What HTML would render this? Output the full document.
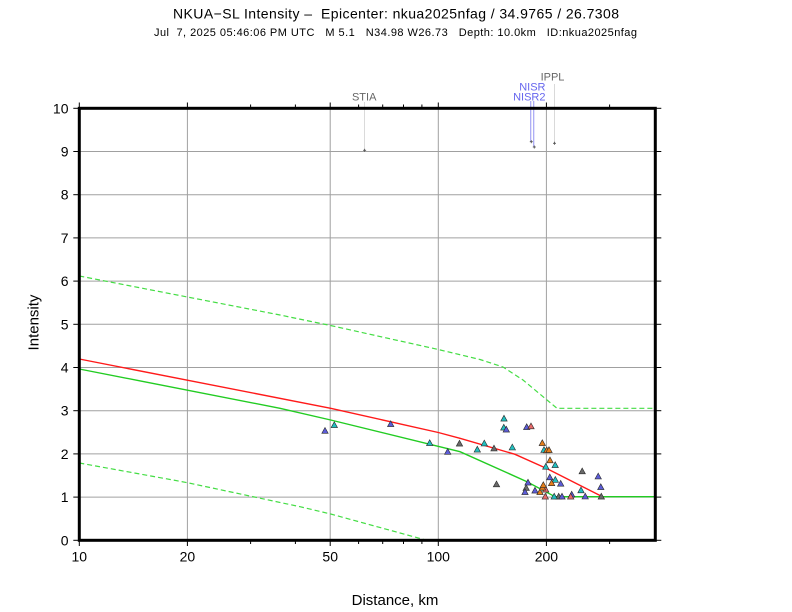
<!DOCTYPE html>
<html>
<head>
<meta charset="utf-8">
<style>
  html, body { margin:0; padding:0; background:#fff; }
  svg { display:block; }
  text { font-family: "Liberation Sans", "DejaVu Sans", sans-serif; }
</style>
</head>
<body>
<svg width="792" height="612" viewBox="0 0 792 612" xmlns="http://www.w3.org/2000/svg">
  <rect x="0" y="0" width="792" height="612" fill="#fff"/>

  <!-- Titles -->
  <text x="396" y="18.3" font-size="14" text-anchor="middle" fill="#000" textLength="446" lengthAdjust="spacing" xml:space="preserve">NKUA−SL Intensity –  Epicenter: nkua2025nfag / 34.9765 / 26.7308</text>
  <text x="395.5" y="36" font-size="11" text-anchor="middle" fill="#000" textLength="483" lengthAdjust="spacing" xml:space="preserve">Jul  7, 2025 05:46:06 PM UTC   M 5.1   N34.98 W26.73   Depth: 10.0km   ID:nkua2025nfag</text>

  <!-- Grid -->
  <g stroke="#a0a0a0" stroke-width="1" fill="none">
    <line x1="187.4" y1="108.3" x2="187.4" y2="540.3"/>
    <line x1="330.2" y1="108.3" x2="330.2" y2="540.3"/>
    <line x1="438.3" y1="108.3" x2="438.3" y2="540.3"/>
    <line x1="546.4" y1="108.3" x2="546.4" y2="540.3"/>
    <line x1="79.3" y1="497.1" x2="655.3" y2="497.1"/>
    <line x1="79.3" y1="453.9" x2="655.3" y2="453.9"/>
    <line x1="79.3" y1="410.7" x2="655.3" y2="410.7"/>
    <line x1="79.3" y1="367.5" x2="655.3" y2="367.5"/>
    <line x1="79.3" y1="324.3" x2="655.3" y2="324.3"/>
    <line x1="79.3" y1="281.1" x2="655.3" y2="281.1"/>
    <line x1="79.3" y1="237.9" x2="655.3" y2="237.9"/>
    <line x1="79.3" y1="194.7" x2="655.3" y2="194.7"/>
    <line x1="79.3" y1="151.5" x2="655.3" y2="151.5"/>
  </g>

  <!-- Ticks -->
  <g stroke="#000" stroke-width="1" fill="none">
    <!-- left / right -->
    <line x1="73.3" y1="540.3" x2="79.3" y2="540.3"/><line x1="655.3" y1="540.3" x2="661.3" y2="540.3"/>
    <line x1="73.3" y1="497.1" x2="79.3" y2="497.1"/><line x1="655.3" y1="497.1" x2="661.3" y2="497.1"/>
    <line x1="73.3" y1="453.9" x2="79.3" y2="453.9"/><line x1="655.3" y1="453.9" x2="661.3" y2="453.9"/>
    <line x1="73.3" y1="410.7" x2="79.3" y2="410.7"/><line x1="655.3" y1="410.7" x2="661.3" y2="410.7"/>
    <line x1="73.3" y1="367.5" x2="79.3" y2="367.5"/><line x1="655.3" y1="367.5" x2="661.3" y2="367.5"/>
    <line x1="73.3" y1="324.3" x2="79.3" y2="324.3"/><line x1="655.3" y1="324.3" x2="661.3" y2="324.3"/>
    <line x1="73.3" y1="281.1" x2="79.3" y2="281.1"/><line x1="655.3" y1="281.1" x2="661.3" y2="281.1"/>
    <line x1="73.3" y1="237.9" x2="79.3" y2="237.9"/><line x1="655.3" y1="237.9" x2="661.3" y2="237.9"/>
    <line x1="73.3" y1="194.7" x2="79.3" y2="194.7"/><line x1="655.3" y1="194.7" x2="661.3" y2="194.7"/>
    <line x1="73.3" y1="151.5" x2="79.3" y2="151.5"/><line x1="655.3" y1="151.5" x2="661.3" y2="151.5"/>
    <line x1="73.3" y1="108.3" x2="79.3" y2="108.3"/><line x1="655.3" y1="108.3" x2="661.3" y2="108.3"/>
    <!-- top / bottom major -->
    <line x1="79.3" y1="102.5" x2="79.3" y2="108.3"/><line x1="79.3" y1="540.3" x2="79.3" y2="546"/>
    <line x1="187.4" y1="102.5" x2="187.4" y2="108.3"/><line x1="187.4" y1="540.3" x2="187.4" y2="546"/>
    <line x1="330.2" y1="102.5" x2="330.2" y2="108.3"/><line x1="330.2" y1="540.3" x2="330.2" y2="546"/>
    <line x1="438.3" y1="102.5" x2="438.3" y2="108.3"/><line x1="438.3" y1="540.3" x2="438.3" y2="546"/>
    <line x1="546.4" y1="102.5" x2="546.4" y2="108.3"/><line x1="546.4" y1="540.3" x2="546.4" y2="546"/>
    <!-- minor -->
    <line x1="250.6" y1="104.5" x2="250.6" y2="108.3"/><line x1="250.6" y1="540.3" x2="250.6" y2="544"/>
    <line x1="295.4" y1="104.5" x2="295.4" y2="108.3"/><line x1="295.4" y1="540.3" x2="295.4" y2="544"/>
    <line x1="358.6" y1="104.5" x2="358.6" y2="108.3"/><line x1="358.6" y1="540.3" x2="358.6" y2="544"/>
    <line x1="382.7" y1="104.5" x2="382.7" y2="108.3"/><line x1="382.7" y1="540.3" x2="382.7" y2="544"/>
    <line x1="403.5" y1="104.5" x2="403.5" y2="108.3"/><line x1="403.5" y1="540.3" x2="403.5" y2="544"/>
    <line x1="421.9" y1="104.5" x2="421.9" y2="108.3"/><line x1="421.9" y1="540.3" x2="421.9" y2="544"/>
    <line x1="609.6" y1="104.5" x2="609.6" y2="108.3"/><line x1="609.6" y1="540.3" x2="609.6" y2="544"/>
  </g>

  <!-- Tick labels -->
  <g font-size="14" fill="#000">
    <g text-anchor="end">
      <text x="68.5" y="545.3">0</text>
      <text x="68.5" y="502.1">1</text>
      <text x="68.5" y="458.9">2</text>
      <text x="68.5" y="415.7">3</text>
      <text x="68.5" y="372.5">4</text>
      <text x="68.5" y="329.3">5</text>
      <text x="68.5" y="286.1">6</text>
      <text x="68.5" y="242.9">7</text>
      <text x="68.5" y="199.7">8</text>
      <text x="68.5" y="156.5">9</text>
      <text x="68.5" y="113.3">10</text>
    </g>
    <g text-anchor="middle">
      <text x="79.3" y="561.7">10</text>
      <text x="187.4" y="561.7">20</text>
      <text x="330.2" y="561.7">50</text>
      <text x="438.3" y="561.7">100</text>
      <text x="546.4" y="561.7">200</text>
    </g>
  </g>

  <!-- Axis titles -->
  <text x="395" y="605" font-size="15" text-anchor="middle" fill="#000">Distance, km</text>
  <text transform="translate(38.5,322.5) rotate(-90)" font-size="15" text-anchor="middle" fill="#000">Intensity</text>

  <!-- Curves -->
  <polyline fill="none" stroke="#44dd44" stroke-width="1.2" stroke-dasharray="5,3"
    points="79.3,276 187.4,297 280,315 330.5,325.5 438.3,349.5 480,359.5 503,367 523,380 547,400 557,408.3 655.3,408.3"/>
  <polyline fill="none" stroke="#44dd44" stroke-width="1.2" stroke-dasharray="5,3"
    points="79.3,463 173,480 187.4,482.7 300,506.7 330.7,514 426.7,540.3"/>
  <polyline fill="none" stroke="#22cc22" stroke-width="1.4"
    points="79.3,369 280,408.3 330.7,420 460,451.7 527,481.7 555,496.7 655.3,496.7"/>
  <polyline fill="none" stroke="#ff1a1a" stroke-width="1.4"
    points="79.3,359 330.7,408.3 438.3,432.5 460,438.3 515,454.3 546.7,468.5 601,496"/>

  <!-- Station annotation lines -->
  <g fill="none" stroke-width="0.8">
    <line x1="364.6" y1="102" x2="364.6" y2="150" stroke="#d0d0d0"/>
    <line x1="554.5" y1="84" x2="554.5" y2="143" stroke="#d0d0d0"/>
    <line x1="530.8" y1="101" x2="530.8" y2="141.5" stroke="#7777ee"/>
    <line x1="533.8" y1="101" x2="533.8" y2="147" stroke="#7777ee"/>
  </g>
  <g fill="#666" font-size="11">
    <text x="364.2" y="100.7" text-anchor="middle">STIA</text>
    <text x="552.5" y="80.7" text-anchor="middle">IPPL</text>
    <text x="545.5" y="90.7" text-anchor="end" fill="#6666ee">NISR</text>
    <text x="545.5" y="100.7" text-anchor="end" fill="#6666ee">NISR2</text>
  </g>
  <g stroke="#555" stroke-width="0.9">
    <line x1="363.1" y1="150.3" x2="366.1" y2="150.3"/><line x1="364.6" y1="148.8" x2="364.6" y2="151.8"/>
    <line x1="529.8" y1="141.7" x2="532.8" y2="141.7"/><line x1="531.3" y1="140.2" x2="531.3" y2="143.2"/>
    <line x1="532.8" y1="147" x2="535.8" y2="147"/><line x1="534.3" y1="145.5" x2="534.3" y2="148.5"/>
    <line x1="553" y1="143.3" x2="556" y2="143.3"/><line x1="554.5" y1="141.8" x2="554.5" y2="144.8"/>
  </g>

  <!-- Triangles -->
  <defs>
    <path id="t" d="M0,-3.2 L3.2,2.6 L-3.2,2.6 Z"/>
  </defs>
  <g stroke="#2a2a2a" stroke-width="0.6">
    <!-- gray -->
    <g fill="#6a6a6a">
      <use href="#t" x="459.5" y="443.5"/>
      <use href="#t" x="494" y="448.3"/>
      <use href="#t" x="496.5" y="484.2"/>
      <use href="#t" x="526.2" y="487.8"/>
      <use href="#t" x="558.7" y="496.5"/>
      <use href="#t" x="582.2" y="471.2"/>
      <use href="#t" x="601.3" y="496.5"/>
    </g>
    <!-- cyan -->
    <g fill="#22c0c0">
      <use href="#t" x="334.3" y="425"/>
      <use href="#t" x="429.7" y="443"/>
      <use href="#t" x="477.3" y="449.5"/>
      <use href="#t" x="484.3" y="443.3"/>
      <use href="#t" x="504" y="418.5"/>
      <use href="#t" x="503.8" y="427.5"/>
      <use href="#t" x="512.3" y="447.3"/>
      <use href="#t" x="544" y="449.8"/>
      <use href="#t" x="555.2" y="465"/>
      <use href="#t" x="545.8" y="466.6"/>
      <use href="#t" x="555.3" y="479.7"/>
      <use href="#t" x="554.2" y="496.5"/>
      <use href="#t" x="581" y="490.2"/>
    </g>
    <!-- blue -->
    <g fill="#5c5cd8">
      <use href="#t" x="325" y="430.7"/>
      <use href="#t" x="390.7" y="424"/>
      <use href="#t" x="447.7" y="451.7"/>
      <use href="#t" x="506.3" y="429.5"/>
      <use href="#t" x="526.7" y="427"/>
      <use href="#t" x="528" y="482.5"/>
      <use href="#t" x="525" y="492"/>
      <use href="#t" x="535" y="490.5"/>
      <use href="#t" x="549.8" y="477.2"/>
      <use href="#t" x="560.7" y="483.6"/>
      <use href="#t" x="562" y="496.5"/>
      <use href="#t" x="571.7" y="494.5"/>
      <use href="#t" x="585.2" y="496.4"/>
      <use href="#t" x="598.2" y="476.3"/>
      <use href="#t" x="600.8" y="487"/>
    </g>
    <!-- pink -->
    <g fill="#e86a6a">
      <use href="#t" x="531" y="426.2"/>
      <use href="#t" x="545.7" y="489.5"/>
      <use href="#t" x="545.3" y="496.5"/>
      <use href="#t" x="570.7" y="496.5"/>
    </g>
    <!-- orange -->
    <g fill="#e67e1a">
      <use href="#t" x="540" y="492"/>
      <use href="#t" x="542.5" y="487.5"/>
      <use href="#t" x="543.3" y="485"/>
      <use href="#t" x="542.3" y="443"/>
      <use href="#t" x="546.8" y="450.2"/>
      <use href="#t" x="549" y="450"/>
      <use href="#t" x="550" y="460.2"/>
      <use href="#t" x="551.6" y="483.1"/>
    </g>
  </g>

  <!-- Frame -->
  <rect x="79.3" y="108.3" width="576" height="432" fill="none" stroke="#000" stroke-width="3"/>
</svg>
</body>
</html>
